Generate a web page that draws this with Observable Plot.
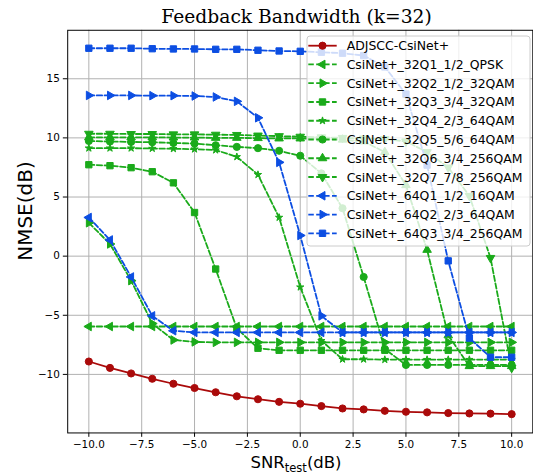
<!DOCTYPE html>
<html><head><meta charset="utf-8">
<script src="https://cdn.jsdelivr.net/npm/d3@7"></script>
<script src="https://cdn.jsdelivr.net/npm/@observablehq/plot@0.6"></script>
<style>
html,body{margin:0;padding:0;overflow:hidden;background:#fff;width:533px;height:475px}
#wrap{position:relative;width:533px;height:475px;overflow:hidden}
#wrap > svg{position:absolute;left:0;top:0}
.lbl{position:absolute;line-height:1;white-space:nowrap;color:#000}
#title{left:0;width:593px;text-align:center;top:8.2px;font-family:"DejaVu Serif";font-size:18.7px}
#xlabel{left:0;width:592px;text-align:center;top:455px;font-family:"DejaVu Sans";font-size:16.5px}
#xlabel span{font-size:0.7em;position:relative;top:0.35em}
#ylabel{left:-74.7px;width:200px;text-align:center;top:201px;font-family:"DejaVu Sans";font-size:20px;transform:rotate(-90deg)}
</style></head>
<body><div id="wrap">
<div id="title" class="lbl">Feedback Bandwidth (k=32)</div>
<div id="xlabel" class="lbl">SNR<span>test</span>(dB)</div>
<div id="ylabel" class="lbl">NMSE(dB)</div>
</div>
<script>
// ---- data ----
const snr = [-10,-9,-8,-7,-6,-5,-4,-3,-2,-1,0,1,2,3,4,5,6,7,8,9,10];
const adjscc = [-8.91,-9.45,-9.92,-10.37,-10.79,-11.15,-11.51,-11.85,-12.10,-12.32,-12.48,-12.68,-12.88,-12.96,-13.08,-13.16,-13.21,-13.27,-13.30,-13.32,-13.36];
const q32_1 = [-5.95,-5.95,-5.95,-5.95,-5.95,-5.95,-5.95,-5.95,-5.95,-5.95,-5.95,-5.95,-5.95,-5.95,-5.95,-5.95,-5.95,-5.95,-5.95,-5.95,-5.95];
const q32_2 = [2.82,1.03,-2.07,-5.70,-7.09,-7.25,-7.29,-7.29,-7.29,-7.29,-7.29,-7.29,-7.29,-7.29,-7.29,-7.29,-7.29,-7.29,-7.29,-7.29,-7.29];
const q32_3 = [7.73,7.65,7.48,7.14,6.20,3.69,-1.09,-6.11,-7.79,-7.96,-7.96,-7.96,-7.96,-7.96,-7.96,-7.96,-7.96,-7.96,-7.96,-7.96,-7.96];
const q32_4 = [9.13,9.13,9.13,9.10,9.08,9.05,8.97,8.40,6.89,3.27,-2.62,-7.15,-8.72,-8.72,-8.75,-8.75,-8.75,-8.75,-8.75,-8.75,-8.75];
const q32_5 = [9.74,9.69,9.66,9.63,9.57,9.52,9.38,9.24,9.13,8.91,8.49,7.00,4.05,-1.76,-7.85,-9.20,-9.20,-9.20,-9.20,-9.20,-9.20];
const q32_6 = [10.05,10.05,10.05,10.05,10.03,10.03,10.00,10.00,9.98,9.95,9.95,9.90,9.85,9.70,8.80,6.00,0.53,-6.70,-9.30,-9.30,-9.30];
const q32_7 = [10.35,10.35,10.33,10.33,10.30,10.30,10.27,10.25,10.20,10.15,10.10,10.05,10.00,9.95,9.90,9.70,8.80,7.50,5.10,-0.15,-9.45];
const q64_1 = [3.27,1.37,-1.76,-5.05,-6.31,-6.45,-6.45,-6.45,-6.45,-6.45,-6.45,-6.45,-6.45,-6.45,-6.45,-6.45,-6.45,-6.45,-6.45,-6.45,-6.45];
const q64_2 = [13.59,13.59,13.59,13.57,13.57,13.54,13.46,13.09,11.70,7.93,1.75,-5.05,-6.45,-6.45,-6.45,-6.45,-6.45,-6.45,-6.45,-6.45,-6.45];
const q64_3 = [17.58,17.58,17.58,17.54,17.52,17.52,17.49,17.49,17.41,17.35,17.32,17.24,17.16,16.96,16.00,13.70,7.70,-0.40,-6.93,-8.55,-8.55];
const seriesNames = ["ADJSCC-CsiNet+","CsiNet+_32Q1_1/2_QPSK","CsiNet+_32Q2_1/2_32QAM","CsiNet+_32Q3_3/4_32QAM","CsiNet+_32Q4_2/3_64QAM","CsiNet+_32Q5_5/6_64QAM","CsiNet+_32Q6_3/4_256QAM","CsiNet+_32Q7_7/8_256QAM","CsiNet+_64Q1_1/2_16QAM","CsiNet+_64Q2_2/3_64QAM","CsiNet+_64Q3_3/4_256QAM"];
const seriesValues = [adjscc,q32_1,q32_2,q32_3,q32_4,q32_5,q32_6,q32_7,q64_1,q64_2,q64_3];
const xTicks = [-10,-7.5,-5,-2.5,0,2.5,5,7.5,10];
const yTicks = [-10,-5,0,5,10,15];

// ---- styles ----
const RED = "#aa0a0a", GREEN = "#1aaa1a", BLUE = "#0c4ee2";
const styles = [
  {color: RED, symbol: "circle", rotate: 0, dash: null, r: 3.6},
  {color: GREEN, symbol: "triangle", rotate: -90, dash: "5.5,2.4", r: 3.2},
  {color: GREEN, symbol: "triangle", rotate: 90, dash: "5.5,2.4", r: 3.2},
  {color: GREEN, symbol: "square", rotate: 0, dash: "5.5,2.4", r: 3.6},
  {color: GREEN, symbol: "star", rotate: 0, dash: "5.5,2.4", r: 2.3},
  {color: GREEN, symbol: "circle", rotate: 0, dash: "5.5,2.4", r: 3.6},
  {color: GREEN, symbol: "triangle", rotate: 0, dash: "5.5,2.4", r: 3.2},
  {color: GREEN, symbol: "triangle", rotate: 180, dash: "5.5,2.4", r: 3.2},
  {color: BLUE, symbol: "triangle", rotate: -90, dash: "5.5,2.4", r: 3.2},
  {color: BLUE, symbol: "triangle", rotate: 90, dash: "5.5,2.4", r: 3.2},
  {color: BLUE, symbol: "square", rotate: 0, dash: "5.5,2.4", r: 3.6}
];

const marks = [
  Plot.ruleX(xTicks, {stroke: "#b0b0b0", strokeWidth: 1}),
  Plot.ruleY(yTicks, {stroke: "#b0b0b0", strokeWidth: 1})
];
seriesValues.forEach((vals, i) => {
  const s = styles[i];
  const rows = snr.map((x, j) => ({x, y: vals[j]}));
  marks.push(Plot.line(rows, {x: "x", y: "y", stroke: s.color, strokeWidth: 1.8, strokeDasharray: s.dash || undefined}));
  marks.push(Plot.dot(rows, {x: "x", y: "y", symbol: s.symbol, r: s.r, rotate: s.rotate, fill: s.color, stroke: s.color, strokeWidth: 1}));
});
marks.push(Plot.frame({stroke: "#000", strokeWidth: 1}));

const fmtX = d => d.toFixed(1).replace("-", "\u2212");
const fmtY = d => String(d).replace("-", "\u2212");

const chart = Plot.plot({
  width: 537, height: 475,
  marginLeft: 67.7, marginRight: 0.7, marginTop: 30, marginBottom: 39.3,
  style: {fontFamily: "DejaVu Sans", fontSize: "10.5px", color: "#000", background: "transparent"},
  x: {domain: [-11, 11], ticks: xTicks, tickFormat: fmtX, tickSize: 4.4, tickPadding: 3.5, label: null},
  y: {domain: [-14.95, 19.1], ticks: yTicks, tickFormat: fmtY, tickSize: 4.4, tickPadding: 3.5, label: null},
  marks
});
document.getElementById("wrap").prepend(chart);

// ---- legend ----
const leg = d3.select("#wrap").append("svg")
  .attr("width", 533).attr("height", 475)
  .style("position", "absolute").style("left", 0).style("top", 0);
leg.append("rect").attr("x", 307).attr("y", 36).attr("width", 223).attr("height", 210)
  .attr("rx", 3).attr("fill", "#fff").attr("fill-opacity", 0.8).attr("stroke", "#cccccc").attr("stroke-width", 1);
const symMap = {circle: d3.symbolCircle, square: d3.symbolSquare, star: d3.symbolStar, triangle: d3.symbolTriangle};
seriesNames.forEach((name, i) => {
  const s = styles[i];
  const cy = 45.7 + 18.76 * i;
  leg.append("line").attr("x1", 308.3).attr("x2", 336.7).attr("y1", cy).attr("y2", cy)
    .attr("stroke", s.color).attr("stroke-width", 1.8).attr("stroke-dasharray", s.dash);
  leg.append("path").attr("d", d3.symbol(symMap[s.symbol], Math.PI * s.r * s.r)())
    .attr("transform", `translate(322.5,${cy}) rotate(${s.rotate})`)
    .attr("fill", s.color).attr("stroke", s.color).attr("stroke-width", 1);
  leg.append("text").attr("x", 346.7).attr("y", cy + 4.5).text(name)
    .attr("font-family", "DejaVu Sans").attr("font-size", 12.45).attr("fill", "#000");
});
</script>
</body></html>
